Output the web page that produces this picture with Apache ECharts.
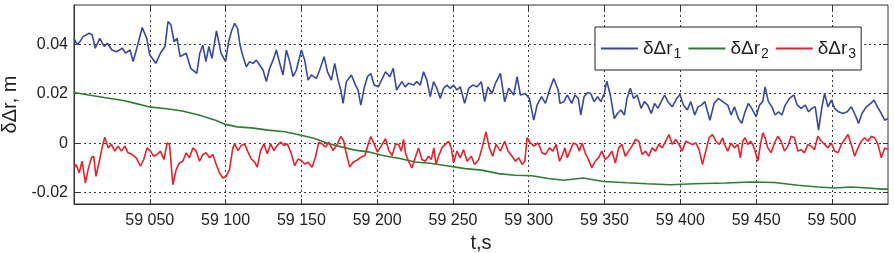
<!DOCTYPE html>
<html>
<head>
<meta charset="utf-8">
<script src="https://cdn.jsdelivr.net/npm/echarts@6/dist/echarts.min.js"></script>
<style>
html,body{margin:0;padding:0;background:#fff;}
#chart{width:894px;height:253px;}
</style>
</head>
<body>
<div id="chart"></div>
<script>
// ---- data (t in s, values in m) ----
var seriesNames = ['δΔr1', 'δΔr2', 'δΔr3'];
var yTickValues = [-0.02, 0, 0.02, 0.04];
var xTickValues = [59050, 59100, 59150, 59200, 59250, 59300, 59350, 59400, 59450, 59500];

var blueT = [59000,59002,59004,59006,59010,59012,59014,59017,59020,59022,59025,59028,59032,59034,59037,59039,59042,59045,59048,59050,59054,59057,59060,59062,59064,59066,59068,59070,59074,59077,59081,59083,59085,59087,59089,59091,59094,59097,59100,59102,59104,59106,59108,59109.5,59111.5,59113.7,59115.9,59118.1,59120.3,59122.5,59124.7,59126.9,59129.1,59131.3,59133.5,59135.7,59137.9,59140.1,59142.3,59144.5,59146.7,59150,59152.2,59154.4,59156.6,59159.9,59162.1,59165,59167.2,59169.8,59172,59174.2,59176,59177.5,59179.7,59183,59185.7,59187.4,59189.2,59191.4,59193.6,59195.8,59198,59200.7,59202.9,59205.5,59208.4,59210.6,59212.8,59214.1,59216.3,59218.5,59220.7,59224,59226.2,59228.4,59230.6,59232.8,59235,59237.2,59239.4,59241.6,59243.8,59246,59248.2,59250.4,59252.6,59254.8,59257.7,59260.4,59263,59265.9,59268.7,59270.9,59273.1,59275.8,59278,59281.3,59284.1,59286.8,59290.1,59292.3,59294.5,59297.8,59300.4,59303.3,59305.5,59308.4,59311,59313.7,59316.5,59319.4,59320.6,59323.2,59325.4,59328.3,59330.5,59332.7,59334.3,59336.5,59338.7,59340.9,59343.1,59345.4,59347.6,59349.8,59351.5,59353.8,59356.4,59358.6,59360.8,59363.1,59364.8,59367,59369.2,59371.5,59374.1,59376.3,59378.5,59380.8,59383,59385.2,59387.4,59389.6,59391.8,59394.7,59397.6,59399.8,59402,59404.6,59406.9,59409.5,59411.7,59413.9,59416.2,59419.5,59422.3,59425,59427.9,59429.1,59431.3,59433.5,59435.7,59438.3,59440.5,59442.7,59444.9,59447.1,59450,59452.2,59454.4,59455.9,59458.1,59460.4,59462.6,59464.8,59467,59469.2,59472,59474.9,59477.1,59479.7,59482.4,59484.6,59486.8,59489,59491.2,59493.4,59495.2,59497.4,59499.6,59501.8,59504.4,59507.3,59510.1,59512.8,59515.4,59517.6,59519.8,59522.7,59525.6,59527.8,59530,59532.6,59534.8,59537];
var blueV = [0.0424,0.0400,0.0411,0.0431,0.0445,0.0438,0.0384,0.0424,0.0391,0.0404,0.0377,0.0370,0.0384,0.0364,0.0377,0.0330,0.0397,0.0468,0.0424,0.0357,0.0323,0.0364,0.0391,0.0492,0.0478,0.0411,0.0424,0.0350,0.0364,0.0303,0.0282,0.0364,0.0397,0.0330,0.0391,0.0343,0.0454,0.0364,0.0330,0.0411,0.0455,0.0485,0.0462,0.0397,0.0350,0.0309,0.0330,0.0323,0.0336,0.0316,0.0296,0.0249,0.0303,0.0336,0.0377,0.0323,0.0276,0.0377,0.0330,0.0269,0.0296,0.0377,0.0336,0.0255,0.0276,0.0262,0.0296,0.0350,0.0289,0.0255,0.0323,0.0255,0.0215,0.0161,0.0249,0.0276,0.0235,0.0215,0.0154,0.0222,0.0269,0.0282,0.0235,0.0228,0.0255,0.0289,0.0269,0.0303,0.0215,0.0215,0.0249,0.0228,0.0242,0.0235,0.0249,0.0235,0.0289,0.0255,0.0188,0.0249,0.0222,0.0181,0.0222,0.0235,0.0222,0.0235,0.0215,0.0228,0.0161,0.0222,0.0235,0.0228,0.0249,0.0168,0.0228,0.0201,0.0242,0.0282,0.0168,0.0222,0.0195,0.0269,0.0195,0.0201,0.0181,0.0093,0.0154,0.0188,0.0161,0.0215,0.0262,0.0215,0.0161,0.0168,0.0195,0.0161,0.0195,0.0181,0.0114,0.0188,0.0205,0.0201,0.0168,0.0188,0.0168,0.0201,0.0251,0.0195,0.0100,0.0120,0.0134,0.0114,0.0181,0.0222,0.0181,0.0195,0.0141,0.0168,0.0154,0.0120,0.0161,0.0141,0.0168,0.0195,0.0168,0.0147,0.0181,0.0197,0.0154,0.0134,0.0168,0.0114,0.0147,0.0154,0.0168,0.0093,0.0161,0.0181,0.0168,0.0174,0.0154,0.0114,0.0147,0.0100,0.0080,0.0127,0.0161,0.0141,0.0107,0.0154,0.0168,0.0228,0.0168,0.0147,0.0114,0.0127,0.0114,0.0154,0.0181,0.0195,0.0154,0.0141,0.0154,0.0127,0.0141,0.0147,0.0053,0.0147,0.0201,0.0147,0.0174,0.0141,0.0127,0.0120,0.0127,0.0147,0.0114,0.0080,0.0120,0.0147,0.0161,0.0174,0.0147,0.0120,0.0093,0.0100];

var greenT = [59000,59009.7,59020.7,59031.7,59040.5,59049.3,59062.6,59071.4,59082.4,59093.4,59100,59107.7,59117,59128,59139,59150,59158.8,59167.6,59176.4,59185.2,59194.1,59202.9,59215,59225,59236,59247,59258,59269,59280,59291,59302,59313,59323,59336,59349.3,59364.8,59378.1,59393.6,59409.1,59430.1,59446.7,59462.1,59477.5,59490.7,59501.8,59512.8,59523.8,59532.6,59537];
var greenV = [0.0205,0.0195,0.0184,0.0174,0.0161,0.0147,0.0138,0.0130,0.0114,0.0093,0.0076,0.0066,0.0062,0.0053,0.0046,0.0032,0.0019,-0.0001,-0.0015,-0.0028,-0.0035,-0.0049,-0.0062,-0.0076,-0.0082,-0.0092,-0.0103,-0.0109,-0.0123,-0.0130,-0.0132,-0.0143,-0.0150,-0.0141,-0.0155,-0.0160,-0.0164,-0.0168,-0.0164,-0.0161,-0.0157,-0.0159,-0.0170,-0.0177,-0.0181,-0.0177,-0.0181,-0.0186,-0.0186];

var redT = [59000,59001.3,59003.5,59005.3,59007.5,59009.3,59011.5,59013,59014.5,59016.7,59018.5,59020.3,59022.5,59024.7,59026.9,59029.1,59031.3,59033.5,59035.7,59038.3,59041,59043.8,59046,59048.2,59050.4,59052.6,59054.8,59057,59059.3,59061.5,59063,59065.2,59067.4,59069.6,59071.8,59074,59076.2,59078.4,59080.6,59082.8,59085,59087.2,59089.4,59091.6,59093.8,59096,59098.2,59100.4,59102.6,59104.8,59106,59108.2,59110.4,59112.6,59114.8,59117,59119.2,59120.9,59123.1,59125.3,59127.5,59129.7,59131.9,59134.1,59136.3,59138.5,59140.7,59143,59145.6,59147.8,59150,59152.2,59154.4,59157,59159.3,59161.5,59163.7,59165.9,59168.1,59170.9,59173.8,59176,59177.8,59179.7,59181.9,59184.1,59186.3,59189.2,59191.9,59194.1,59195.8,59198,59200.2,59202.9,59205.5,59207.7,59209.9,59212.1,59214.1,59215.9,59217.4,59218.9,59220.7,59222.9,59225.1,59227.3,59229.5,59231.7,59233.9,59235.7,59237.4,59238.8,59240.5,59242.7,59244.9,59247.1,59248.9,59250.4,59252.6,59254.8,59257,59259.3,59262.1,59264.3,59267,59269.2,59271.8,59274,59276.2,59278.4,59281.3,59284.1,59286.3,59289,59291.2,59293.4,59295.6,59297.4,59298.9,59301.1,59303.3,59306.2,59308.8,59311,59313.7,59315.9,59318.1,59320.3,59322.3,59323.9,59325.4,59327.2,59329.4,59331.6,59333.4,59335.2,59337.2,59339.4,59341.6,59343.8,59346,59348.2,59350.4,59352.7,59354.9,59357.1,59359.3,59361.5,59363.7,59365.9,59368.1,59370.4,59372.6,59374.8,59377,59379.2,59381.4,59383.6,59385.8,59388.1,59390.3,59392.5,59394.7,59396.9,59399.1,59401.3,59403.5,59405.8,59408,59410.2,59412.4,59414.6,59416.8,59419,59421.2,59423.5,59425.7,59427.9,59429.1,59431.3,59433.5,59435.7,59437.9,59439.6,59441.2,59442.7,59444.5,59446.3,59447.8,59449.3,59451.1,59452.9,59454.4,59455.9,59457.7,59459.9,59462.1,59464.3,59466.5,59468.7,59470.9,59473.1,59475.3,59477.5,59479.7,59481.9,59484.1,59486.3,59488.5,59490.7,59493,59495.2,59497.4,59499.6,59501.8,59504,59506.2,59508.4,59510.6,59512.8,59515,59517.2,59519.4,59521.6,59523.8,59526,59528.2,59530.4,59532.6,59534.8,59537];
var redV = [-0.0100,-0.0086,-0.0120,-0.0073,-0.0161,-0.0107,-0.0059,-0.0053,-0.0134,-0.0073,-0.0019,0.0024,-0.0019,-0.0005,-0.0032,-0.0012,-0.0032,-0.0012,-0.0039,-0.0046,-0.0059,-0.0093,-0.0066,-0.0019,-0.0032,-0.0053,-0.0046,-0.0032,-0.0066,0.0001,-0.0005,-0.0168,-0.0107,-0.0080,-0.0073,-0.0039,-0.0059,-0.0019,-0.0032,-0.0073,-0.0046,-0.0039,-0.0059,-0.0046,-0.0086,-0.0120,-0.0141,-0.0134,-0.0107,-0.0019,-0.0003,-0.0030,-0.0009,-0.0003,-0.0036,-0.0064,-0.0077,-0.0097,-0.0030,-0.0003,-0.0043,-0.0003,-0.0030,-0.0009,0.0004,-0.0009,-0.0003,-0.0036,-0.0091,-0.0064,-0.0070,-0.0084,-0.0077,-0.0097,-0.0057,0.0004,-0.0003,-0.0016,0.0004,-0.0030,-0.0003,0.0027,0.0011,-0.0043,-0.0097,-0.0077,-0.0070,-0.0057,-0.0050,-0.0003,0.0027,-0.0003,-0.0036,-0.0009,0.0018,-0.0030,-0.0050,-0.0003,-0.0005,-0.0032,0.0015,-0.0046,-0.0073,-0.0100,-0.0059,-0.0019,-0.0066,-0.0073,-0.0053,-0.0066,-0.0019,-0.0086,-0.0053,-0.0019,-0.0005,0.0008,-0.0019,-0.0080,-0.0032,-0.0059,-0.0026,-0.0073,-0.0053,-0.0086,-0.0066,-0.0019,0.0046,-0.0019,-0.0053,-0.0005,-0.0032,0.0008,-0.0032,-0.0053,-0.0073,-0.0059,-0.0086,-0.0073,0.0022,0.0001,-0.0012,0.0001,-0.0039,-0.0046,-0.0019,-0.0032,-0.0005,-0.0073,-0.0046,-0.0019,-0.0059,-0.0032,0.0001,-0.0005,-0.0032,0.0001,-0.0039,-0.0066,-0.0100,-0.0073,-0.0059,-0.0032,-0.0066,-0.0053,-0.0032,-0.0080,-0.0019,-0.0005,-0.0053,-0.0032,-0.0012,0.0015,0.0008,-0.0046,-0.0032,-0.0053,-0.0019,-0.0032,-0.0005,-0.0019,0.0008,0.0035,-0.0005,0.0015,-0.0005,-0.0032,0.0008,0.0001,-0.0005,0.0001,-0.0026,-0.0086,-0.0032,0.0022,0.0035,0.0008,-0.0005,0.0022,-0.0005,-0.0032,0.0001,-0.0019,-0.0005,-0.0059,0.0008,0.0022,-0.0005,0.0008,-0.0005,-0.0032,-0.0073,-0.0005,0.0042,0.0022,-0.0019,-0.0039,0.0001,0.0028,0.0008,-0.0032,-0.0012,0.0028,0.0022,-0.0032,-0.0026,-0.0039,-0.0005,-0.0012,-0.0026,0.0028,0.0008,-0.0005,-0.0019,0.0001,-0.0032,-0.0039,-0.0005,0.0015,0.0035,-0.0005,-0.0053,-0.0019,0.0008,0.0022,0.0008,0.0028,0.0022,-0.0005,-0.0059,-0.0019,-0.0026];

function pairs(t, v) { return t.map(function (x, i) { return [x, v[i]]; }); }

var FONT = '"Liberation Sans", Arial, Helvetica, sans-serif';
var gridLine = { show: true, lineStyle: { color: '#3a3a3a', type: [2, 3], width: 1 } };

var chart = echarts.init(document.getElementById('chart'), null, { renderer: 'canvas' });
chart.setOption({
  animation: false,
  backgroundColor: '#fff',
  textStyle: { fontFamily: FONT },
  grid: { left: 74, right: 6, top: 5, bottom: 49, containLabel: false, outerBoundsMode: 'none', show: true, borderColor: '#333', borderWidth: 1, backgroundColor: '#fff' },
  legend: {
    left: 595, top: 27,
    orient: 'horizontal',
    icon: 'rect',
    itemWidth: 37, itemHeight: 2, itemGap: 7,
    padding: [9, 5, 9, 6],
    backgroundColor: '#fff',
    borderColor: '#222', borderWidth: 1, borderRadius: 0,
    data: seriesNames,
    formatter: function (n) { return '{m|' + n.slice(0, 3) + '}{s|' + n.slice(3) + '}'; },
    textStyle: {
      fontFamily: FONT, color: '#222',
      rich: {
        m: { fontSize: 19, fontFamily: FONT, color: '#222', lineHeight: 24 },
        s: { fontSize: 14, fontFamily: FONT, color: '#222', padding: [11, 0, 0, 1], lineHeight: 24 }
      }
    }
  },
  xAxis: [{
    type: 'value', min: 59000, max: 59537, interval: 50,
    name: 't,s', nameLocation: 'middle', nameGap: 26,
    nameTextStyle: { fontSize: 20, color: '#222', fontFamily: FONT },
    axisLine: { show: true, onZero: false, lineStyle: { color: '#333' } },
    axisTick: { show: true, inside: true, length: 5, customValues: xTickValues, lineStyle: { color: '#333' } },
    axisLabel: {
      customValues: xTickValues, margin: 9, fontSize: 16, color: '#222', fontFamily: FONT,
      formatter: function (v) { return Math.floor(v / 1000) + ' ' + String(v % 1000).padStart(3, '0'); }
    },
    splitLine: gridLine
  }, {
    type: 'value', position: 'top', min: 59000, max: 59537, interval: 50,
    axisLine: { show: false, onZero: false },
    axisTick: { show: true, inside: true, length: 5, customValues: xTickValues, lineStyle: { color: '#333' } },
    axisLabel: { show: false },
    splitLine: { show: false }
  }],
  yAxis: [{
    type: 'value', min: -0.0246, max: 0.0559,
    name: 'δΔr, m', nameLocation: 'middle', nameGap: 48, nameRotate: 90,
    nameTextStyle: { fontSize: 20, color: '#222', fontFamily: FONT },
    axisLine: { show: true, onZero: false, lineStyle: { color: '#333' } },
    axisTick: { show: true, inside: true, length: 5, customValues: yTickValues, lineStyle: { color: '#333' } },
    axisLabel: {
      customValues: yTickValues, margin: 6, fontSize: 16, color: '#222', fontFamily: FONT,
      formatter: function (v) { return Math.abs(v) < 1e-9 ? '0' : v.toFixed(2); }
    },
    splitLine: gridLine
  }, {
    type: 'value', position: 'right', min: -0.0246, max: 0.0559,
    axisLine: { show: false, onZero: false },
    axisTick: { show: true, inside: true, length: 5, customValues: yTickValues, lineStyle: { color: '#333' } },
    axisLabel: { show: false },
    splitLine: { show: false }
  }],
  series: [
    { name: seriesNames[0], type: 'line', data: pairs(blueT, blueV), showSymbol: false, symbol: 'none', color: '#3748a0', lineStyle: { width: 1.6, color: '#3748a0' } },
    { name: seriesNames[1], type: 'line', data: pairs(greenT, greenV), showSymbol: false, symbol: 'none', color: '#2f7d32', lineStyle: { width: 1.6, color: '#2f7d32' } },
    { name: seriesNames[2], type: 'line', data: pairs(redT, redV), showSymbol: false, symbol: 'none', color: '#e8202a', lineStyle: { width: 1.6, color: '#e8202a' } }
  ]
});
</script>
</body>
</html>
